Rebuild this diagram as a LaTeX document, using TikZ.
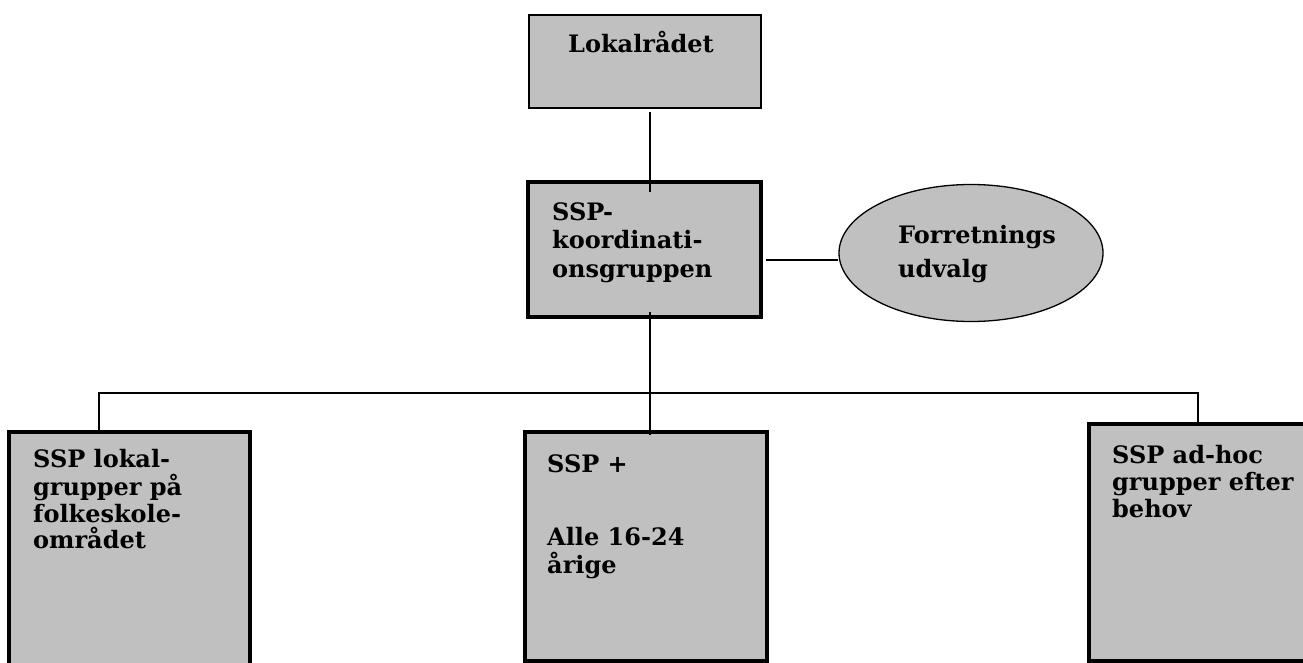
\documentclass[tikz,border=0pt]{standalone}
\usepackage{fontspec}
\setmainfont{DejaVu Serif}
\usetikzlibrary{shapes.geometric}
\definecolor{boxgray}{RGB}{192,192,192}
\begin{document}
\begin{tikzpicture}[x=1pt,y=-1pt,
  boxthin/.style={draw=black,fill=boxgray,line width=2pt},
  boxthick/.style={draw=black,fill=boxgray,line width=3.5pt},
  oval/.style={draw=black,fill=boxgray,line width=1.3pt},
  conn/.style={draw=black,line width=1.6pt},
  lbl/.style={anchor=base west,inner sep=0pt,font=\bfseries\fontsize{24}{28}\selectfont}]
\useasboundingbox (0,0) rectangle (1303,663);
% boxes
\path[boxthin] (529,15) rectangle (761,108);
\coordinate (lokB) at (650,112);
\path[boxthick] (528,182) rectangle (761,317);
\coordinate (ssT) at (650,192);
\coordinate (ssR) at (766,260);
\coordinate (ssB) at (650,312);
\node[oval,ellipse,minimum width=264pt,minimum height=137pt] (fu) at (971,253) {};
\path[boxthick] (9,432) rectangle (250,680);
\path[boxthick] (525,432) rectangle (767,661);
\path[boxthick] (1089,424) rectangle (1320,661);
\coordinate (midT) at (650,435);
\coordinate (busL) at (99,393);
\coordinate (busR) at (1198,393);
\coordinate (lT) at (99,432);
\coordinate (rT) at (1198,424);
% connectors
\draw[conn] (lokB) -- (ssT);
\draw[conn] (ssR) -- (fu.west |- ssR);
\draw[conn] (ssB) -- (midT);
\draw[conn] (lT) -- (busL) -- (busR) -- (rT);
% texts
\node[lbl] (t1) at (568,53) {Lokalrådet};
\node[lbl] (t2a) at (552,220) {SSP-};
\node[lbl] (t2b) at (552,248) {koordinati-};
\node[lbl] (t2c) at (552,277) {onsgruppen};
\node[lbl] (t3a) at (898,243) {Forretnings};
\node[lbl] (t3b) at (898,277) {udvalg};
\node[lbl] (t4a) at (33,467) {SSP lokal-};
\node[lbl] (t4b) at (33,495) {grupper på};
\node[lbl] (t4c) at (33,522) {folkeskole-};
\node[lbl] (t4d) at (33,548) {området};
\node[lbl] (t5a) at (547,472) {SSP +};
\node[lbl] (t5b) at (547,545) {Alle 16-24};
\node[lbl] (t5c) at (547,573) {årige};
\node[lbl] (t6a) at (1112,463) {SSP ad-hoc};
\node[lbl] (t6b) at (1112,490) {grupper efter};
\node[lbl] (t6c) at (1112,517) {behov};
\end{tikzpicture}
\end{document}
